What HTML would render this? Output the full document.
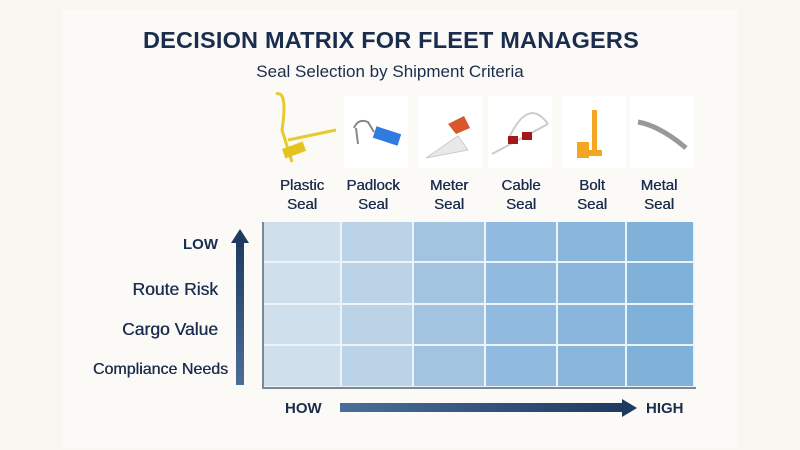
<!DOCTYPE html>
<html><head><meta charset="utf-8"><style>
body{margin:0;width:800px;height:450px;background:#f8f6f1;font-family:"Liberation Sans",sans-serif;position:relative;overflow:hidden}
.card{position:absolute;left:62px;top:10px;width:676px;height:438px;background:#fcfaf6}
.a{position:absolute}
.t{color:#1b2d4e;font-weight:bold}
.lab{position:absolute;width:80px;text-align:center;color:#1b2d4e;font-size:15px;line-height:19px;text-shadow:0.4px 0 0 #1b2d4e}
.ic{position:absolute;top:96px;width:64px;height:72px;background:#fff}
.cell{position:absolute;border-right:2px solid #eef3f8;border-bottom:2px solid #eef3f8;box-sizing:border-box}
.rl{position:absolute;right:582px;color:#1b2d4e;font-size:17.5px;white-space:nowrap;text-shadow:0.4px 0 0 #1b2d4e}
</style></head><body>
<div class="card"></div>
<div class="a t" style="left:0;width:782px;top:27px;text-align:center;font-size:23.5px;letter-spacing:0.2px">DECISION MATRIX FOR FLEET MANAGERS</div>
<div class="a" style="left:0;width:780px;top:62px;text-align:center;font-size:17px;color:#1b2d4e">Seal Selection by Shipment Criteria</div>

<div class="ic" style="left:258px;top:90px;background:transparent"><svg width="80" height="80"><path d="M18 4 Q30 0 24 40 L34 72 M30 50 L78 40" stroke="#e8c92e" stroke-width="3" fill="none"/><rect x="25" y="55" width="22" height="10" fill="#e6c21f" transform="rotate(-20 36 60)"/></svg></div>
<div class="ic" style="left:344px"><svg width="64" height="72"><path d="M10 32 Q14 22 24 26 L30 36" stroke="#888" stroke-width="2" fill="none"/><path d="M12 32 L14 48" stroke="#888" stroke-width="2"/><rect x="30" y="34" width="26" height="12" fill="#2f7be0" transform="rotate(18 43 40)"/></svg></div>
<div class="ic" style="left:418px"><svg width="64" height="72"><path d="M8 62 L40 40 L50 54 Z" fill="#e8e8e8" stroke="#ccc"/><path d="M30 28 L46 20 L52 32 L38 38 Z" fill="#d9572c"/></svg></div>
<div class="ic" style="left:488px"><svg width="64" height="72"><path d="M4 58 L60 28 M20 44 Q40 0 60 28" stroke="#ccc" stroke-width="2" fill="none"/><rect x="20" y="40" width="10" height="8" fill="#a31818"/><rect x="34" y="36" width="10" height="8" fill="#a31818"/></svg></div>
<div class="ic" style="left:562px"><svg width="64" height="72"><rect x="30" y="14" width="5" height="42" fill="#f4a623"/><rect x="15" y="46" width="12" height="16" fill="#f4a623"/><rect x="24" y="54" width="16" height="6" fill="#f4a623"/></svg></div>
<div class="ic" style="left:630px"><svg width="64" height="72"><path d="M8 26 Q30 30 56 52" stroke="#999" stroke-width="5" fill="none"/></svg></div>

<div class="lab" style="left:262px;top:176px">Plastic<br>Seal</div>
<div class="lab" style="left:333px;top:176px">Padlock<br>Seal</div>
<div class="lab" style="left:409px;top:176px">Meter<br>Seal</div>
<div class="lab" style="left:481px;top:176px">Cable<br>Seal</div>
<div class="lab" style="left:552px;top:176px">Bolt<br>Seal</div>
<div class="lab" style="left:619px;top:176px">Metal<br>Seal</div>

<div id="g"></div>
<script>
var xs=[264,342,414,486,558,627,695],ys=[222,263,305,346,388],c=["#cfdfeb","#bad3e7","#a2c4e1","#90badf","#89b6dc","#7fb1d9"],h="";
for(var r=0;r<4;r++)for(var i=0;i<6;i++)h+='<div class="cell" style="left:'+xs[i]+'px;top:'+ys[r]+'px;width:'+(xs[i+1]-xs[i])+'px;height:'+(ys[r+1]-ys[r])+'px;background:'+c[i]+'"></div>';
document.getElementById('g').innerHTML=h;
</script>
<div class="a" style="left:262px;top:222px;width:2px;height:167px;background:#7a8797"></div>
<div class="a" style="left:262px;top:387px;width:434px;height:2px;background:#7a8797"></div>

<div class="a" style="left:236px;top:240px;width:8px;height:145px;background:linear-gradient(#1f3a60,#4a6f98)"></div>
<div class="a" style="left:231px;top:229px;width:0;height:0;border-left:9px solid transparent;border-right:9px solid transparent;border-bottom:14px solid #1f3a60"></div>
<div class="a" style="left:340px;top:403px;width:285px;height:9px;background:linear-gradient(90deg,#4a6f98,#1f3a60)"></div>
<div class="a" style="left:622px;top:399px;width:0;height:0;border-top:9px solid transparent;border-bottom:9px solid transparent;border-left:15px solid #1f3a60"></div>

<div class="rl t" style="top:236px;font-size:15px;text-shadow:none">LOW</div>
<div class="rl" style="top:279px">Route Risk</div>
<div class="rl" style="top:319px">Cargo Value</div>
<div class="rl" style="top:361px;font-size:16px;right:572px">Compliance Needs</div>
<div class="a t" style="left:285px;top:400px;font-size:15px">HOW</div>
<div class="a t" style="left:646px;top:400px;font-size:15px">HIGH</div>
</body></html>
